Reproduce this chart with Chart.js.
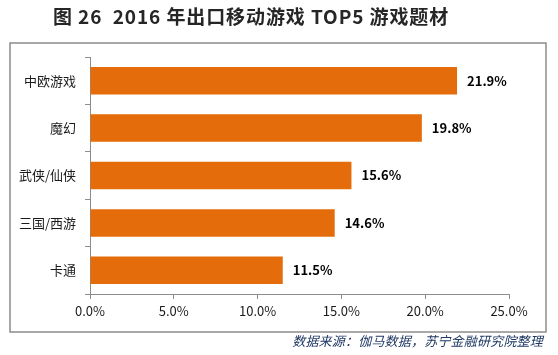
<!DOCTYPE html>
<html><head><meta charset="utf-8">
<script src="https://cdn.jsdelivr.net/npm/chart.js@4/dist/chart.umd.min.js"></script>
<style>html,body{margin:0;padding:0;background:#fff;}#wrap{width:558px;height:355px;position:relative;}</style>
</head><body><div id="wrap"><canvas id="c" width="558" height="355"></canvas></div>
<script>
const titleText = "图 26  2016 年出口移动游戏 TOP5 游戏题材";
const sourceText = "数据来源：伽马数据，苏宁金融研究院整理";
const categories = ["中欧游戏", "魔幻", "武侠/仙侠", "三国/西游", "卡通"];
const values = [21.9, 19.8, 15.6, 14.6, 11.5];
const xTicks = [0, 5, 10, 15, 20, 25];

const FONT = "'Noto Sans CJK SC', 'Noto Sans', sans-serif";

const decor = {
  id: 'decor',
  beforeDraw(chart) {
    const ctx = chart.ctx;
    ctx.save();
    ctx.fillStyle = '#fff';
    ctx.fillRect(0, 0, chart.width, chart.height);
    ctx.strokeStyle = '#8c8c8c';
    ctx.lineWidth = 1.5;
    ctx.strokeRect(10, 43, 536, 289);
    ctx.restore();
  },
  afterDraw(chart) {
    const ctx = chart.ctx;
    ctx.save();
    ctx.fillStyle = '#262626';
    ctx.font = "bold 19px " + FONT;
    ctx.letterSpacing = '0.9px';
    ctx.textAlign = 'left';
    ctx.textBaseline = 'middle';
    ctx.fillText(titleText, 53, 17);
    ctx.letterSpacing = '0.2px';
    ctx.fillStyle = '#1f3864';
    ctx.font = "italic 13px " + FONT;
    ctx.textAlign = 'right';
    ctx.fillText(sourceText, 543, 341);
    ctx.letterSpacing = '0px';
    // data labels
    const meta = chart.getDatasetMeta(0);
    ctx.fillStyle = '#000';
    ctx.font = "bold 13px " + FONT;
    ctx.textAlign = 'left';
    meta.data.forEach((el, i) => {
      ctx.fillText(values[i].toFixed(1) + '%', el.x + 10, el.y);
    });
    ctx.restore();
  }
};

new Chart(document.getElementById('c'), {
  type: 'bar',
  data: {
    labels: categories,
    datasets: [{
      data: values,
      backgroundColor: '#E46C0A',
      borderWidth: 0,
      barPercentage: 0.58,
      categoryPercentage: 1
    }]
  },
  options: {
    indexAxis: 'y',
    responsive: false,
    animation: false,
    events: [],
    layout: { padding: { left: 10, top: 57, right: 49, bottom: 0 } },
    plugins: { legend: { display: false }, tooltip: { enabled: false }, title: { display: false } },
    scales: {
      x: {
        min: 0, max: 25,
        afterBuildTicks(axis) { axis.ticks = xTicks.map(v => ({ value: v })); },
        afterFit(axis) { axis.height = 61; },
        grid: { display: true, drawOnChartArea: false, drawTicks: true, tickLength: 5, color: '#8c8c8c', lineWidth: 1 },
        border: { display: true, color: '#8c8c8c', width: 1 },
        ticks: { color: '#1a1a1a', font: { family: FONT, size: 13 }, padding: 4, maxRotation: 0,
          callback: (v) => Number(v).toFixed(1) + '%' }
      },
      y: {
        afterFit(axis) { axis.width = 80; },
        grid: { display: true, drawOnChartArea: false, drawTicks: true, tickLength: 5, color: '#8c8c8c', offset: true },
        border: { display: true, color: '#8c8c8c', width: 1 },
        ticks: { color: '#1a1a1a', font: { family: FONT, size: 13 }, padding: 9 }
      }
    }
  },
  plugins: [decor]
});
</script></body></html>
